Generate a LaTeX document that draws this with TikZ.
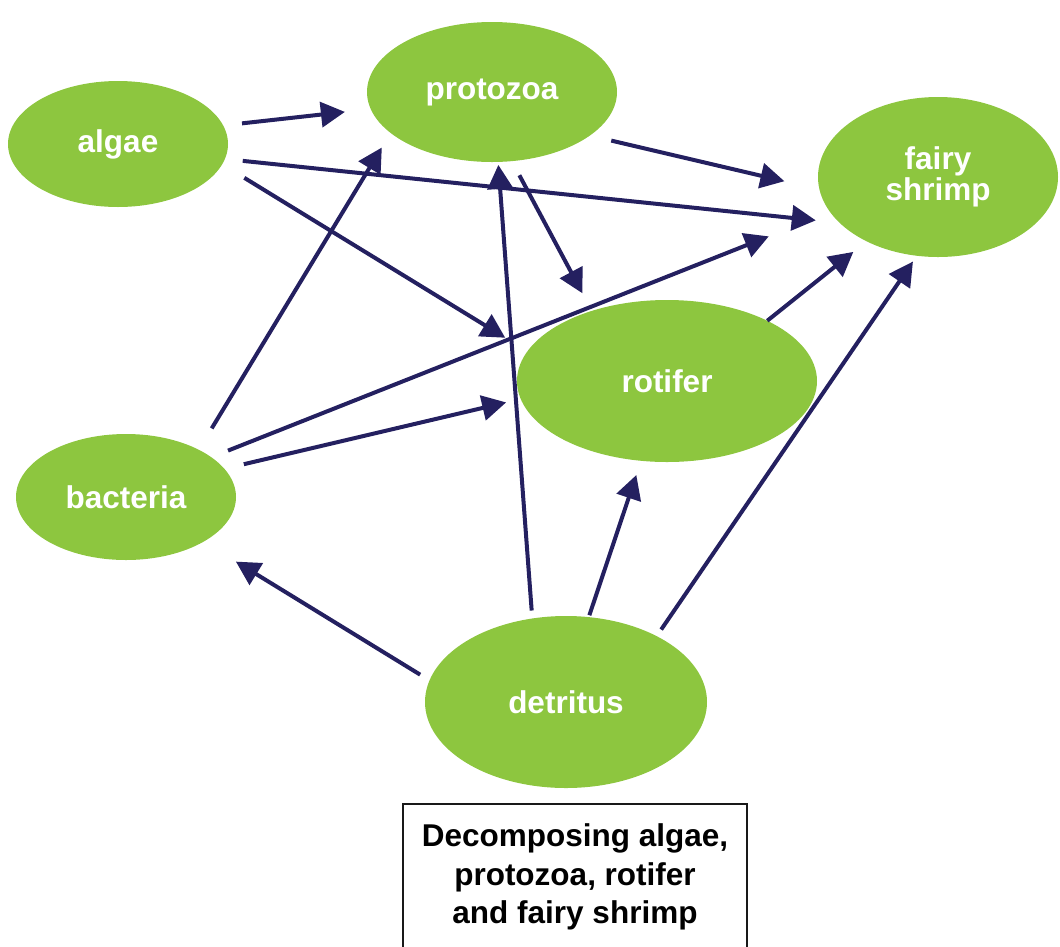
\documentclass[tikz,border=0pt]{standalone}
\usepackage{fontspec}
\setmainfont{Liberation Sans}
\usetikzlibrary{shapes.geometric, arrows.meta}
\definecolor{leaf}{RGB}{141,198,63}
\definecolor{ink}{RGB}{36,32,96}

\begin{document}
\begin{tikzpicture}[x=1pt, y=-1pt,
    blob/.style={ellipse, fill=leaf, inner sep=0pt, outer sep=0pt, text=white, align=center,
                 font=\bfseries\fontsize{31.5}{31}\selectfont},
    link/.style={-{Triangle[length=24pt, width=25pt]}, line width=4pt, draw=ink}]
    \useasboundingbox (0,0) rectangle (1060,946);

    % Nodes
    \node[blob, minimum width=220pt, minimum height=126pt](Alg) at (118,144) {algae};
    \node[blob, minimum width=250pt, minimum height=140pt](Pro) at (492,92) {protozoa};
    \node[blob, minimum width=240pt, minimum height=160pt](Shr) at (938,177) {fairy\\shrimp};
    \node[blob, minimum width=300pt, minimum height=162pt](Rot) at (667,381) {rotifer};
    \node[blob, minimum width=220pt, minimum height=126pt](Bac) at (126,497) {bacteria};
    \node[blob, minimum width=282pt, minimum height=172pt](Det) at (566,702) {detritus};

    % Caption box
    \node[draw=black!90, line width=2pt, anchor=north, minimum width=344pt, inner ysep=20pt,
          align=center, font=\bfseries\fontsize{31.5}{38.5}\selectfont](Cap) at (575,803)
          {Decomposing algae,\\protozoa, rotifer\\and fairy shrimp};

    % Arrows
    \draw[link, shorten <=19pt, shorten >=26pt] (Alg.10) -- (Pro.-172);
    \draw[link, shorten <=18pt, shorten >=24pt] (Alg.-8) -- (Shr.-155);
    \draw[link, shorten <=26pt, shorten >=26pt] (Alg.-11) -- (Rot.168);
    \draw[link, shorten <=22pt, shorten >=36pt] (Pro.-24) -- (Shr.-174);
    \draw[link, shorten <=16pt, shorten >=20pt] (Pro.-74) -- (Rot.137);
    \draw[link, shorten <=25pt, shorten >=17pt] (Bac.33) -- (Pro.-158);
    \draw[link, shorten <=18pt, shorten >=66pt] (Bac.25) -- (Shr.-162);
    \draw[link, shorten <=20pt, shorten >=15pt] (Bac.16) -- (Rot.-173);
    \draw[link, shorten >=17pt] (Rot.31) -- (Shr.-138);
    \draw[link, shorten <=11pt, shorten >=38pt] (Det.171) -- (Bac.-30);
    \draw[link, shorten <=8pt, shorten >=3pt] (Det.112) -- (Pro.-85);
    \draw[link, shorten <=2pt, shorten >=15pt] (Det.75) -- (Rot.-108);
    \draw[link, shorten <=8pt, shorten >=7pt] (Det.36) -- (Shr.-105);
\end{tikzpicture}
\end{document}
